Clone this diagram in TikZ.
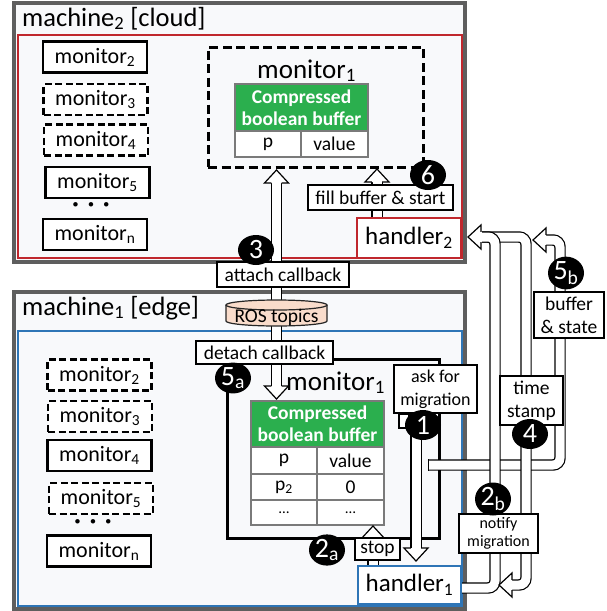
\documentclass[tikz,border=0pt]{standalone}
\usepackage{fontspec}
\setmainfont{Carlito}
\usetikzlibrary{shapes.geometric,calc}
\definecolor{gborder}{HTML}{5E5E5E}
\definecolor{mfill}{HTML}{F8F9FB}
\definecolor{redb}{HTML}{C0272D}
\definecolor{blueb}{HTML}{2E75B6}
\definecolor{tgreen}{HTML}{2BAF4E}
\definecolor{peach}{HTML}{F9DCCB}
\definecolor{tline}{HTML}{7A7A7A}
\newcommand\fsz[1]{\fontsize{#1}{#1}\selectfont}
\pgfdeclarelayer{labels}
\pgfsetlayers{main,labels}
\tikzset{
 monbox/.style={draw, line width=2.6pt, fill=white, minimum width=104pt, minimum height=31pt, inner sep=0pt, font=\fsz{22}},
 mondash/.style={monbox, dash pattern=on 7pt off 3.5pt},
 lbl/.style={draw, line width=1.3pt, fill=white, inner sep=0pt, align=center, font=\fontsize{19.5}{23}\selectfont},
 badge/.style={ellipse, fill=black, text=white, minimum width=36pt, minimum height=30pt, inner sep=0pt, font=\fsz{28}},
 cell/.style={draw=tline, line width=1.2pt, fill=white, inner sep=0pt, font=\fsz{19.5}},
 hdr/.style={draw=tline, line width=1.2pt, fill=tgreen, text=white, inner sep=0pt, align=center, font=\fontsize{19.5}{22}\selectfont\bfseries},
 band/.style={draw=black, line width=1.2pt, double=white, double distance=9pt},
 dotrow/.style={inner sep=0pt, font=\fsz{24}\bfseries},
 mtitle/.style={anchor=base west, inner sep=0pt, font=\fsz{26.5}},
 bhead/.pic={\filldraw[fill=white, draw=black, line width=1.2pt, line join=miter] (-13,5.1) -- (-13,12) -- (0,0) -- (-13,-12) -- (-13,-5.1);}
}
\begin{document}
\begin{tikzpicture}[x=1pt,y=-1pt]
\useasboundingbox (0,0) rectangle (607,611);
% machines
\draw[gborder, line width=4pt, fill=mfill] (14,3) rectangle (465,262);
\draw[redb, line width=2pt] (18,35) rectangle (462,258);
\draw[gborder, line width=4pt, fill=mfill] (14,292) rectangle (465,609);
\draw[blueb, line width=2.2pt] (18,331) rectangle (462,606);
\node[mtitle] (t2) at (22,26) {machine\textsubscript{2} [cloud]};
\node[mtitle] (t1) at (22,315) {machine\textsubscript{1} [edge]};
% machine 2 monitors
\node[monbox] (c2) at (95,57) {monitor\textsubscript{2}};
\node[mondash] (c3) at (95.5,99.5) {monitor\textsubscript{3}};
\node[mondash] (c4) at (96,140) {monitor\textsubscript{4}};
\node[monbox] (c5) at (97.5,182.5) {monitor\textsubscript{5}};
\node[dotrow] (cd) at (91,207) {·\hspace{9pt}·\hspace{9pt}·};
\node[monbox] (cn) at (95,234.5) {monitor\textsubscript{n}};
% machine 1 monitors
\node[mondash] (e2) at (99.5,375) {monitor\textsubscript{2}};
\node[mondash] (e3) at (100,416.5) {monitor\textsubscript{3}};
\node[monbox] (e4) at (99.5,455.5) {monitor\textsubscript{4}};
\node[mondash] (e5) at (101,498.5) {monitor\textsubscript{5}};
\node[dotrow] (ed) at (93,524) {·\hspace{9pt}·\hspace{9pt}·};
\node[monbox] (en) at (99,551) {monitor\textsubscript{n}};
% monitor1 in machine 2
\node[draw, line width=3pt, dash pattern=on 9pt off 4.5pt, minimum width=215pt, minimum height=120pt] (cm1) at (315.5,107) {};
\node[anchor=base west, inner sep=0pt, font=\fsz{27}] (cm1t) at (257,78) {monitor\textsubscript{1}};
\node[hdr, minimum width=133pt, minimum height=47pt] (ch) at (301.5,107.5) {Compressed\\boolean buffer};
\node[cell, minimum width=66pt, minimum height=26pt] (cp) at (268,144) {p};
\node[cell, minimum width=67pt, minimum height=26pt] (cv) at (334.5,144) {value};
% monitor1 in machine 1
\node[draw, line width=3pt, minimum width=212pt, minimum height=179pt] (em1) at (333,448.5) {};
\node[anchor=base west, inner sep=0pt, font=\fsz{27}] (em1t) at (286,390) {monitor\textsubscript{1}};
\node[hdr, minimum width=133pt, minimum height=46pt] (eh) at (317.5,424) {Compressed\\boolean buffer};
\node[cell, minimum width=66pt, minimum height=27pt] (ep) at (284,460.5) {p};
\node[cell, minimum width=67pt, minimum height=27pt] (ev) at (350.5,460.5) {value};
\node[cell, minimum width=66pt, minimum height=26pt] (ep2) at (284,487) {p\textsubscript{2}};
\node[cell, minimum width=67pt, minimum height=26pt] (ev2) at (350.5,487) {0};
\node[cell, minimum width=66pt, minimum height=25pt, font=\fsz{15}] (ep3) at (284,512.5) {\ldots};
\node[cell, minimum width=67pt, minimum height=25pt, font=\fsz{15}] (ev3) at (350.5,512.5) {\ldots};
% handlers
\node[draw=redb, line width=2pt, fill=white, minimum width=104pt, minimum height=40pt, inner sep=0pt, font=\fsz{25}] (h2) at (409,238) {handler\textsubscript{2}};
\node[draw=blueb, line width=2pt, fill=white, minimum width=103pt, minimum height=38pt, inner sep=0pt, font=\fsz{25}] (h1) at (409.5,585) {handler\textsubscript{1}};
% labels (on top layer)
\begin{pgfonlayer}{labels}
\node[lbl, minimum width=145pt, minimum height=25pt] (fill) at (380.5,197.5) {fill buffer \& start};
\node[lbl, minimum width=132pt, minimum height=25pt] (attach) at (283,274.5) {attach callback};
\node[lbl, minimum width=137pt, minimum height=23pt] (detach) at (264.5,352.5) {detach callback};
\node[lbl, minimum width=83pt, minimum height=48pt, font=\fontsize{18}{23}\selectfont] (ask) at (435.5,389) {ask for\\migration};
\node[draw, line width=1.2pt, fill=white, minimum width=10pt, minimum height=14pt, inner sep=0pt] (askstub) at (404,421) {};
\node[lbl, minimum width=63pt, minimum height=49pt] (time) at (531.5,400.5) {time\\stamp};
\node[lbl, minimum width=70pt, minimum height=46pt] (bs) at (569,315) {buffer\\\& state};
\node[lbl, minimum width=79pt, minimum height=39pt, font=\fontsize{16}{18}\selectfont] (notify) at (498.5,533.5) {notify\\migration};
\node[lbl, minimum width=45pt, minimum height=22pt] (stop) at (377.5,549) {stop};
\node[badge] (b3) at (256,250) {3};
\node[badge] (b6) at (428,175) {6};
\node[badge] (b5a) at (233,378) {5\textsubscript{a}};
\node[badge] (b1) at (423,425) {1};
\node[badge] (b2a) at (327,550) {2\textsubscript{a}};
\node[badge] (b2b) at (493,499) {2\textsubscript{b}};
\node[badge] (b4) at (530,434) {4};
\node[badge] (b5b) at (566,273) {5\textsubscript{b}};
\end{pgfonlayer}
% ROS topics cylinder
\node[minimum width=101pt, minimum height=26pt, inner sep=0pt] (ros) at (276.5,313) {};
\coordinate (t3) at (276.5,170);
\coordinate (t5a) at (276.5,399);
\coordinate (t6) at (377,169);
\coordinate (t1) at (416,561);
\coordinate (t2a) at (373,526);
\draw[band] (attach.south -| ros.center) -- (ros.north);
\draw[band] (ros.south) -- (detach.north -| ros.center);
\filldraw[fill=peach, draw=black!85, line width=1.2pt] (226,305) -- (226,321) arc[start angle=180, end angle=360, x radius=50.5pt, y radius=5pt] -- (327,305);
\filldraw[fill=peach, draw=black!85, line width=1.2pt] (276.5,305) ellipse[x radius=50.5pt, y radius=5pt];
\node[inner sep=0pt, font=\fsz{19.5}] (rost) at (276.5,317) {ROS topics};
% straight block arrows
\draw[band] (attach.north -| t3) -- ($(t3)+(0,13)$);
\pic[rotate=90] at (t3) {bhead};
\draw[band] (detach.south -| t5a) -- ($(t5a)+(0,-13)$);
\pic[rotate=-90] at (t5a) {bhead};
\draw[band] (h2.north -| t6) -- ($(t6)+(0,13)$);
\pic[rotate=90] at (t6) {bhead};
\draw[band] (ask.south -| t1) -- ($(t1)+(0,-13)$);
\pic[rotate=-90] at (t1) {bhead};
\draw[band] (h1.north -| t2a) -- ($(t2a)+(0,13)$);
\pic[rotate=90] at (t2a) {bhead};
% right side bands
\coordinate (a5b) at (533,240);
\coordinate (a4) at (499,585);
\coordinate (a2b) at (468,237);
\draw[band, rounded corners=7pt] (428,465) -- (560,465) -- (560,240) -- ($(a5b)+(13,0)$);
\draw[line width=1.2pt] (428.6,459.3) -- (428.6,470.7);
\draw[band, rounded corners=7pt] (482,237) -- (526,237) -- (526,585) -- ($(a4)+(13,0)$);
\draw[band, rounded corners=7pt] (h1.east |- 0,588) -- (495,588) -- (495,237) -- ($(a2b)+(14,0)$);
\pic[rotate=180] at (a5b) {bhead};
\pic[rotate=180] at (a4) {bhead};
\pic[rotate=180] at (a2b) {bhead};
\end{tikzpicture}
\end{document}
